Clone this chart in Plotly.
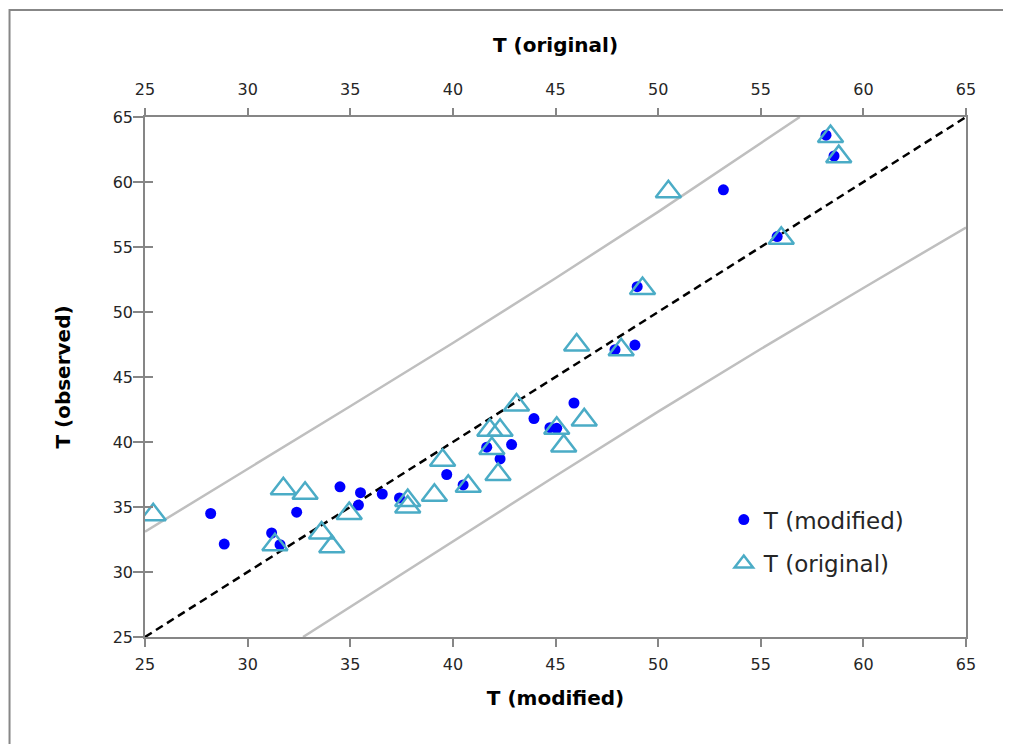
import plotly.graph_objects as go

# T (modified) vs observed
mod_x = [28.2, 28.86, 31.17, 31.58, 32.39, 34.5, 35.4, 35.5, 36.56, 37.4, 39.7, 40.5, 41.65,
         42.3, 42.86, 43.95, 44.73, 45.06, 45.9, 47.9, 48.87, 48.98, 53.18, 55.8, 58.18, 58.57]
mod_y = [34.5, 32.15, 33.0, 32.1, 34.6, 36.55, 35.15, 36.1, 36.0, 35.7, 37.5, 36.7, 39.6,
         38.7, 39.8, 41.8, 41.1, 41.05, 43.0, 47.1, 47.46, 51.95, 59.4, 55.8, 63.6, 62.0]

# T (original) vs observed
orig_x = [25.4, 31.33, 31.74, 32.8, 33.6, 34.1, 34.95, 37.8, 37.8, 39.1, 39.5, 40.75, 41.8,
          42.3, 41.9, 42.2, 43.1, 45.06, 45.4, 46.4, 46.03, 48.2, 49.24, 50.5, 56.0, 58.4, 58.8]
orig_y = [34.4, 32.1, 36.4, 36.05, 33.0, 31.95, 34.5, 35.5, 35.0, 35.9, 38.6, 36.6, 40.9,
          40.9, 39.5, 37.5, 42.85, 41.05, 39.7, 41.7, 47.46, 47.1, 51.8, 59.25, 55.67, 63.5, 61.95]

# 1:1 line and prediction band
line_x = [25, 65]
line_y = [25, 65]
upper_x = [25, 30, 35, 40, 45, 50, 56.9]
upper_y = [33.1, 37.9, 42.75, 47.62, 52.6, 57.7, 65.0]
lower_x = [32.7, 35, 40, 45, 50, 55, 60, 65]
lower_y = [25.0, 27.32, 32.36, 37.38, 42.34, 47.15, 51.85, 56.5]

tick_vals = [25, 30, 35, 40, 45, 50, 55, 60, 65]

AX = "#868686"
FONT = "DejaVu Sans, sans-serif"
TICKFONT = dict(family=FONT, size=16, color="#262626")
TITLEFONT = dict(family=FONT, size=20, color="#000000")

fig = go.Figure()

fig.add_trace(go.Scatter(x=upper_x, y=upper_y, mode="lines", line=dict(color="#BFBFBF", width=2.5),
                         showlegend=False, hoverinfo="skip"))
fig.add_trace(go.Scatter(x=lower_x, y=lower_y, mode="lines", line=dict(color="#BFBFBF", width=2.5),
                         showlegend=False, hoverinfo="skip"))
fig.add_trace(go.Scatter(x=line_x, y=line_y, mode="lines", line=dict(color="#000000", width=2.5, dash="8px,5px"),
                         showlegend=False, hoverinfo="skip"))

fig.add_trace(go.Scatter(x=mod_x, y=mod_y, mode="markers", name="T (modified)", legendgroup="a",
                         marker=dict(symbol="circle", size=11, color="#0000FF")))
fig.add_trace(go.Scatter(x=orig_x, y=orig_y, mode="markers", name="T (original)", legendgroup="b",
                         xaxis="x2",
                         marker=dict(symbol="triangle-up-open", size=22, color="#4BACC6",
                                     line=dict(width=2.5, color="#4BACC6"))))

axis_common = dict(range=[25, 65], tickvals=tick_vals, showgrid=False, zeroline=False,
                   showline=True, linecolor=AX, linewidth=1.5, tickcolor=AX, tickwidth=1.5,
                   tickfont=TICKFONT, automargin=False)

fig.update_layout(
    width=1003, height=736,
    margin=dict(l=137, r=45, t=109, b=107),
    paper_bgcolor="white", plot_bgcolor="white",
    xaxis=dict(**axis_common, side="bottom", ticks="outside", ticklen=8, ticklabelstandoff=4,
               title=dict(text="<b>T (modified)</b>", font=TITLEFONT, standoff=18)),
    xaxis2=dict(**axis_common, side="top", overlaying="x", ticks="outside", ticklen=7, ticklabelstandoff=7,
                title=dict(text="<b>T (original)</b>", font=TITLEFONT, standoff=22)),
    yaxis=dict(**axis_common, ticks="outside", ticklen=10, mirror=True, ticklabelstandoff=-3,
               title=dict(text="<b>T (observed)</b>", font=TITLEFONT, standoff=37)),
    yaxis2=dict(range=[25, 65], tickvals=tick_vals, overlaying="y", side="left", ticks="inside",
                ticklen=8, tickcolor=AX, tickwidth=1.5, showticklabels=False, showgrid=False,
                zeroline=False, showline=False),
    legend=dict(x=0.705, y=0.267, xanchor="left", yanchor="top", bgcolor="rgba(0,0,0,0)",
                font=dict(family=FONT, size=23, color="#262626"),
                traceorder="grouped", tracegroupgap=11),
    shapes=[dict(type="rect", xref="paper", yref="paper", x0=-0.165, x1=1.06, y0=-0.23, y1=1.206,
                 line=dict(color="#878787", width=2), fillcolor="rgba(0,0,0,0)", layer="below")],
)
# helper trace so the inward y ticks (cross ticks) are drawn
fig.add_trace(go.Scatter(x=[None], y=[None], yaxis="y2", showlegend=False, hoverinfo="skip"))

fig.write_html("out.html")
